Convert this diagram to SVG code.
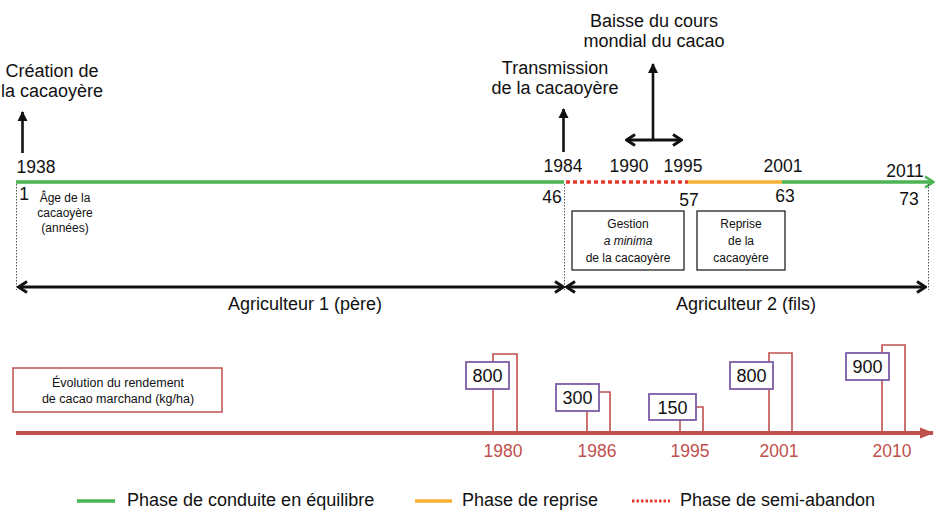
<svg xmlns="http://www.w3.org/2000/svg" width="935" height="514" viewBox="0 0 935 514">
<style>
  text { font-family: "Liberation Sans", Arial, sans-serif; fill: #111; }
  .t18 { font-size: 18px; }
  .yr { font-size: 17.5px; }
  .sm { font-size: 12px; }
  .leg { font-size: 18px; }
  .red { fill: #c0504d; }
  .blk { stroke: #111; fill: none; }
  .dots { stroke: #555; stroke-width: 1; stroke-dasharray: 1.5 1.5; fill: none; }
  .box { fill: #fff; stroke: #222; stroke-width: 1.3; }
  .bar { fill: none; stroke: #c0504d; stroke-width: 1.6; }
  .val { fill: #fff; stroke: #7d5ca6; stroke-width: 1.8; }
  .valt { font-size: 18px; text-anchor: middle; }
</style>
<defs>
  <marker id="triB" viewBox="0 0 10 12" refX="9" refY="6" markerWidth="10" markerHeight="12" markerUnits="userSpaceOnUse" orient="auto">
    <path d="M0,1 L10,6 L0,11 Z" fill="#111"/>
  </marker>
  <marker id="chevB" viewBox="0 0 12 14" refX="10" refY="7" markerWidth="12" markerHeight="14" markerUnits="userSpaceOnUse" orient="auto-start-reverse">
    <path d="M2,1.5 L10.5,7 L2,12.5" fill="none" stroke="#111" stroke-width="3"/>
  </marker>
  <marker id="chevG" viewBox="0 0 12 14" refX="10" refY="7" markerWidth="12" markerHeight="14" markerUnits="userSpaceOnUse" orient="auto">
    <path d="M2,1.5 L10.5,7 L2,12.5" fill="none" stroke="#4cb553" stroke-width="2.6"/>
  </marker>
  <marker id="triR" viewBox="0 0 14 12" refX="13" refY="6" markerWidth="14" markerHeight="12" markerUnits="userSpaceOnUse" orient="auto">
    <path d="M0,0.5 L14,6 L0,11.5 Z" fill="#c0504d"/>
  </marker>
</defs>

<g id="connectors">
  <path d="M16,182 H564" stroke="#4cb553" stroke-width="3.5" fill="none"/>
  <path d="M566,182 H688" stroke="#e8392e" stroke-width="3.5" stroke-dasharray="4 3" fill="none"/>
  <path d="M688,182 H782" stroke="#f6b233" stroke-width="3.5" fill="none"/>
  <path d="M782,182 H933" stroke="#4cb553" stroke-width="3.5" fill="none" marker-end="url(#chevG)"/>
  <path class="dots" d="M16.5,184 V290"/>
  <path class="dots" d="M564.5,184 V290"/>
  <path class="dots" d="M928.5,184 V290"/>
  <path class="blk" stroke-width="2.6" d="M22.5,153 V112" marker-end="url(#triB)"/>
  <path class="blk" stroke-width="2.6" d="M563.5,152 V109" marker-end="url(#triB)"/>
  <path class="blk" stroke-width="2.6" d="M653,140 V64" marker-end="url(#triB)"/>
  <path class="blk" stroke-width="3" d="M627,140 H681" marker-start="url(#chevB)" marker-end="url(#chevB)"/>
  <path class="blk" stroke-width="3" d="M19,287 H563" marker-start="url(#chevB)" marker-end="url(#chevB)"/>
  <path class="blk" stroke-width="3" d="M567,287 H925" marker-start="url(#chevB)" marker-end="url(#chevB)"/>
  <path d="M16,433 H933" stroke="#c0504d" stroke-width="4" fill="none" marker-end="url(#triR)"/>
</g>

<g id="top-labels">
  <text class="t18" x="52" y="77" text-anchor="middle">Création de</text>
  <text class="t18" x="52" y="97" text-anchor="middle">la cacaoyère</text>
  <text class="t18" x="555" y="74" text-anchor="middle">Transmission</text>
  <text class="t18" x="555" y="94" text-anchor="middle">de la cacaoyère</text>
  <text class="t18" x="654" y="27" text-anchor="middle">Baisse du cours</text>
  <text class="t18" x="654" y="47" text-anchor="middle">mondial du cacao</text>
</g>

<g id="years">
  <text class="yr" x="36" y="173" text-anchor="middle">1938</text>
  <text class="yr" x="563" y="172" text-anchor="middle">1984</text>
  <text class="yr" x="629" y="172" text-anchor="middle">1990</text>
  <text class="yr" x="683" y="172" text-anchor="middle">1995</text>
  <text class="yr" x="783" y="172" text-anchor="middle">2001</text>
  <text class="yr" x="905" y="177" text-anchor="middle">2011</text>
</g>

<g id="ages">
  <text class="yr" x="24" y="200" text-anchor="middle">1</text>
  <text class="sm" x="65" y="202" text-anchor="middle">Âge de la</text>
  <text class="sm" x="65" y="217" text-anchor="middle">cacaoyère</text>
  <text class="sm" x="65" y="232" text-anchor="middle">(années)</text>
  <text class="yr" x="552" y="203" text-anchor="middle">46</text>
  <text class="yr" x="689" y="206" text-anchor="middle">57</text>
  <text class="yr" x="785" y="202" text-anchor="middle">63</text>
  <text class="yr" x="909" y="205" text-anchor="middle">73</text>
</g>

<g id="gestion">
  <rect class="box" x="572" y="211" width="112" height="59"/>
  <text class="sm" x="628" y="228" text-anchor="middle">Gestion</text>
  <text class="sm" x="628" y="245" text-anchor="middle" font-style="italic">a minima</text>
  <text class="sm" x="628" y="262" text-anchor="middle">de la cacaoyère</text>
</g>

<g id="reprise">
  <rect class="box" x="697" y="211" width="88" height="59"/>
  <text class="sm" x="741" y="228" text-anchor="middle">Reprise</text>
  <text class="sm" x="741" y="245" text-anchor="middle">de la</text>
  <text class="sm" x="741" y="262" text-anchor="middle">cacaoyère</text>
</g>

<g id="farmers">
  <text class="t18" x="305" y="310" text-anchor="middle">Agriculteur 1 (père)</text>
  <text class="t18" x="746" y="310" text-anchor="middle">Agriculteur 2 (fils)</text>
</g>

<g id="yield-legend">
  <rect x="13" y="368" width="209" height="44" fill="#fff" stroke="#c0504d" stroke-width="1.5"/>
  <text x="118" y="387" text-anchor="middle" font-size="12.5">Évolution du rendement</text>
  <text x="118" y="403" text-anchor="middle" font-size="12.5">de cacao marchand (kg/ha)</text>
</g>

<g id="y1980">
  <path class="bar" d="M493,433 V354 H517 V433"/>
  <rect class="val" x="466" y="362" width="43" height="27"/>
  <text class="valt" x="487.5" y="382">800</text>
  <text class="yr red" x="503" y="457" text-anchor="middle">1980</text>
</g>
<g id="y1986">
  <path class="bar" d="M587,433 V392 H610 V433"/>
  <rect class="val" x="556" y="384" width="43" height="27"/>
  <text class="valt" x="577.5" y="404">300</text>
  <text class="yr red" x="597" y="457" text-anchor="middle">1986</text>
</g>
<g id="y1995">
  <path class="bar" d="M680,433 V407 H703 V433"/>
  <rect class="val" x="649" y="394" width="47" height="26"/>
  <text class="valt" x="672.5" y="414">150</text>
  <text class="yr red" x="690" y="457" text-anchor="middle">1995</text>
</g>
<g id="y2001">
  <path class="bar" d="M769,433 V353 H792 V433"/>
  <rect class="val" x="730" y="362" width="43" height="27"/>
  <text class="valt" x="751.5" y="382">800</text>
  <text class="yr red" x="779" y="457" text-anchor="middle">2001</text>
</g>
<g id="y2010">
  <path class="bar" d="M882,433 V345 H905 V433"/>
  <rect class="val" x="846" y="353" width="43" height="27"/>
  <text class="valt" x="867.5" y="373">900</text>
  <text class="yr red" x="892" y="457" text-anchor="middle">2010</text>
</g>

<g id="legend">
  <path d="M77,501 H115" stroke="#4cb553" stroke-width="3.5"/>
  <text class="leg" x="127" y="506">Phase de conduite en équilibre</text>
  <path d="M415,501 H452" stroke="#f6b233" stroke-width="3.5"/>
  <text class="leg" x="462" y="506">Phase de reprise</text>
  <path d="M632,501 H670" stroke="#e8392e" stroke-width="3" stroke-dasharray="2.5 2"/>
  <text class="leg" x="680" y="506">Phase de semi-abandon</text>
</g>
</svg>
